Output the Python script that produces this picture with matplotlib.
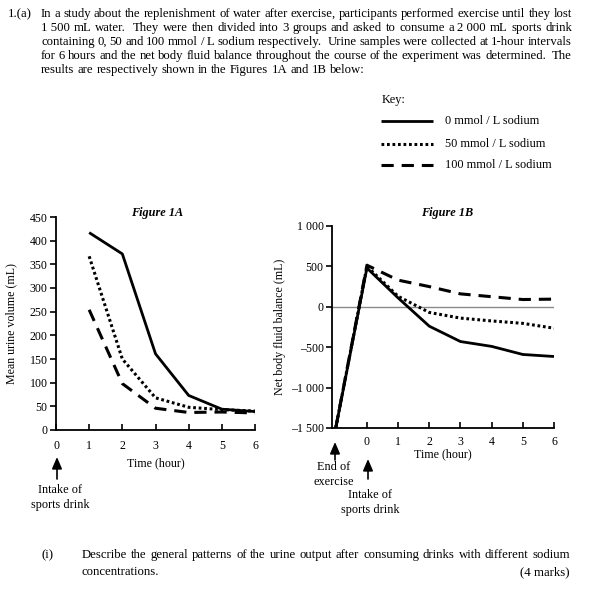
import matplotlib
matplotlib.use("Agg")
import matplotlib.pyplot as plt

# ---------------- data ----------------
hours_a = [1, 2, 3, 4, 5, 6]
urine_0 = [417, 372, 161, 73, 44, 39]
urine_50 = [367, 150, 68, 48, 43, 40]
urine_100 = [254, 98, 46, 37, 38, 36]

hours_b = [-1, 0, 1, 2, 3, 4, 5, 6]
balance_0 = [-1500, 480, 110, -240, -430, -490, -590, -615]
balance_50 = [-1500, 500, 130, -70, -140, -175, -205, -265]
balance_100 = [-1500, 515, 330, 250, 160, 125, 90, 95]

series_labels = ["0 mmol / L sodium", "50 mmol / L sodium", "100 mmol / L sodium"]

a_yticks = [0, 50, 100, 150, 200, 250, 300, 350, 400, 450]
a_xticks = [0, 1, 2, 3, 4, 5, 6]
b_yticks = [-1500, -1000, -500, 0, 500, 1000]
b_yticklabels = ["\u20131 500", "\u20131 000", "\u2013500", "0", "500", "1 000"]
b_xticks = [0, 1, 2, 3, 4, 5, 6]

para_lines = [
    "In a study about the replenishment of water after exercise, participants performed exercise until they lost",
    "1\u00a0500 mL water.  They were then divided into 3 groups and asked to consume a 2\u00a0000 mL sports drink",
    "containing 0, 50 and 100 mmol / L sodium respectively.  Urine samples were collected at 1-hour intervals",
    "for 6 hours and the net body fluid balance throughout the course of the experiment was determined.  The",
    "results are respectively shown in the Figures 1A and 1B below:",
]
q_lines = [
    "Describe the general patterns of the urine output after consuming drinks with different sodium",
    "concentrations.",
]

# ---------------- styling ----------------
W, H = 609, 590
FONT = "Liberation Serif"
plt.rcParams["font.family"] = [FONT, "DejaVu Serif"]
fig = plt.figure(figsize=(W / 100, H / 100), dpi=100)
fig.patch.set_facecolor("white")

def fx(px):
    return px / W

def fy(py):
    return 1 - py / H

SOLID = dict(color="black", lw=2.0, linestyle="-", solid_capstyle="butt")
DOT = dict(color="black", lw=2.2, linestyle=(0, (0.9, 0.9)))
DASH = dict(color="black", lw=2.2, linestyle=(0, (4.0, 2.6)))
styles = [SOLID, DOT, DASH]

renderer = fig.canvas.get_renderer()

def justified(line, x0, x1, yc, size, justify=True):
    words = line.split(" ")
    tokens, weights = [], []
    cur_w = 0
    for w in words:
        if w == "":
            cur_w += 1
            continue
        if tokens:
            weights.append(1 + cur_w)
        tokens.append(w)
        cur_w = 0
    objs, widths = [], []
    for t in tokens:
        o = fig.text(0, fy(yc), t, fontsize=size, va="center", ha="left")
        objs.append(o)
        widths.append(o.get_window_extent(renderer).width)
    total = sum(widths)
    if justify and len(tokens) > 1:
        unit = (x1 - x0 - total) / sum(weights)
    else:
        sp = fig.text(0, 0, "a a", fontsize=size)
        sp2 = fig.text(0, 0, "aa", fontsize=size)
        unit = sp.get_window_extent(renderer).width - sp2.get_window_extent(renderer).width
        sp.remove(); sp2.remove()
    x = x0
    for i, o in enumerate(objs):
        o.set_x(fx(x))
        x += widths[i]
        if i < len(weights):
            x += unit * weights[i]

BODY = 9.2
KEYF = 8.8
TICKF = 8.6
fig.text(fx(8), fy(14), "1.(a)", fontsize=BODY, va="center", ha="left")
para_y = [14, 28, 42, 56, 70]
for i, ln in enumerate(para_lines):
    justified(ln, 41, 572, para_y[i], BODY, justify=(i < len(para_lines) - 1))

# ---------------- key ----------------
fig.text(fx(382), fy(100), "Key:", fontsize=KEYF, va="center", ha="left")
key_y = [121, 144, 165]
for i, st in enumerate(styles):
    fig.add_artist(plt.Line2D([fx(381), fx(433)], [fy(key_y[i]), fy(key_y[i])],
                              transform=fig.transFigure, **st))
    fig.text(fx(445), fy(key_y[i]), series_labels[i], fontsize=KEYF, va="center", ha="left")

# ---------------- Figure 1A ----------------
ax1 = fig.add_axes([fx(56), fy(430), fx(255) - fx(56), fy(217) - fy(430)])
ax1.plot(hours_a, urine_0, **SOLID)
ax1.plot(hours_a, urine_50, **DOT)
ax1.plot(hours_a, urine_100, **DASH)
ax1.set_xlim(0, 6)
ax1.set_ylim(0, 450)
ax1.set_yticks(a_yticks)
ax1.set_xticks(a_xticks)
for s in ["top", "right"]:
    ax1.spines[s].set_visible(False)
ax1.spines["left"].set_linewidth(1.3)
ax1.spines["bottom"].set_linewidth(1.3)
ax1.tick_params(axis="y", direction="out", length=4, width=1.2, labelsize=TICKF, pad=2)
ax1.tick_params(axis="x", direction="in", length=4, width=1.2, labelsize=TICKF, pad=7)
ax1.set_ylabel("Mean urine volume (mL)", fontsize=TICKF)
ax1.yaxis.set_label_coords((17 - 56) / 199, 0.5)
ax1.set_xlabel("Time (hour)", fontsize=TICKF, labelpad=4)
ax1.patch.set_alpha(0)
fig.text(fx(157), fy(213), "Figure 1A", fontsize=KEYF, fontweight="bold",
         fontstyle="italic", ha="center", va="center")

# ---------------- Figure 1B ----------------
ax2 = fig.add_axes([fx(332), fy(428), fx(554) - fx(332), fy(226) - fy(428)])
ax2.axhline(0, color="#8a8a8a", lw=1.0, zorder=1)
ax2.plot(hours_b, balance_0, zorder=3, **SOLID)
ax2.plot(hours_b, balance_50, zorder=3, **DOT)
ax2.plot(hours_b, balance_100, zorder=3, **DASH)
ax2.set_xlim(-1.12, 6)
ax2.set_ylim(-1500, 1000)
ax2.set_yticks(b_yticks)
ax2.set_yticklabels(b_yticklabels)
ax2.set_xticks(b_xticks)
for s in ["top", "right"]:
    ax2.spines[s].set_visible(False)
ax2.spines["left"].set_linewidth(1.3)
ax2.spines["bottom"].set_linewidth(1.3)
ax2.tick_params(axis="y", direction="out", length=4, width=1.2, labelsize=TICKF, pad=2)
ax2.tick_params(axis="x", direction="in", length=4, width=1.2, labelsize=TICKF, pad=6)
ax2.set_ylabel("Net body fluid balance (mL)", fontsize=TICKF)
ax2.yaxis.set_label_coords((286 - 332) / 222, 0.5)
ax2.set_xlabel("Time (hour)", fontsize=TICKF, labelpad=0)
ax2.patch.set_alpha(0)
fig.text(fx(447), fy(213), "Figure 1B", fontsize=KEYF, fontweight="bold",
         fontstyle="italic", ha="center", va="center")

# ---------------- arrows / annotations ----------------
def arrow(x, y_tail, y_head):
    fig.add_artist(matplotlib.patches.FancyArrowPatch(
        (fx(x), fy(y_tail)), (fx(x), fy(y_head)), transform=fig.transFigure,
        arrowstyle="-|>,head_length=7,head_width=3", color="black", lw=1.2,
        mutation_scale=1, shrinkA=0, shrinkB=0))

arrow(57, 479, 457)
fig.text(fx(60), fy(490), "Intake of", fontsize=KEYF, ha="center", va="center")
fig.text(fx(60), fy(505), "sports drink", fontsize=KEYF, ha="center", va="center")

arrow(335, 460, 442)
fig.text(fx(334), fy(467), "End of", fontsize=KEYF, ha="center", va="center")
fig.text(fx(334), fy(482), "exercise", fontsize=KEYF, ha="center", va="center")

arrow(368, 479, 459)
fig.text(fx(370), fy(495), "Intake of", fontsize=KEYF, ha="center", va="center")
fig.text(fx(370), fy(510), "sports drink", fontsize=KEYF, ha="center", va="center")

# ---------------- question ----------------
fig.text(fx(41), fy(555), "(i)", fontsize=BODY, va="center", ha="left")
justified(q_lines[0], 82, 570, 555, BODY, justify=True)
justified(q_lines[1], 82, 570, 572, BODY, justify=False)
fig.text(fx(569), fy(572), "(4 marks)", fontsize=BODY, va="center", ha="right")

fig.savefig("out.png", dpi=100, facecolor="white")
